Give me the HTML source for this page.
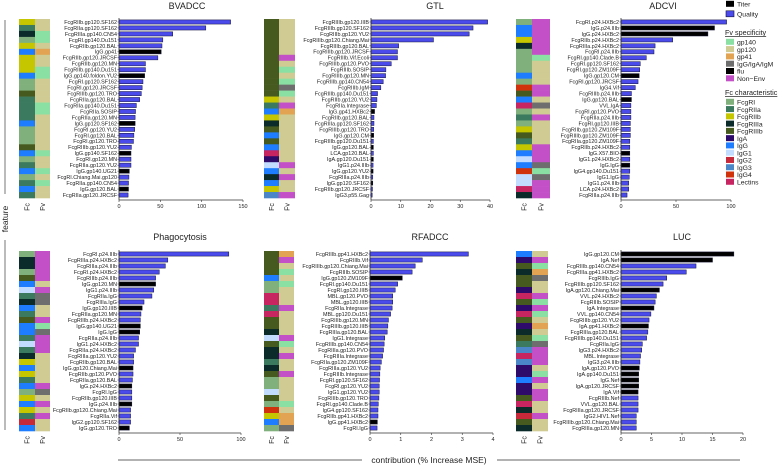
<!DOCTYPE html>
<html><head><meta charset="utf-8">
<style>
html,body{margin:0;padding:0;background:#fff;}
svg{display:block;font-family:"Liberation Sans",sans-serif;}
</style></head>
<body>
<svg id="chart" width="783" height="466" viewBox="0 0 783 466"></svg>
<script>
const bvadccNames=["FcgRIIb.gp120.SF162","FcgRIIa.gp120.SF162","FcgRIIIa.gp140.CN54","FcgRI.gp140.Du151","FcgRIIb.gp120.BAL","IgG.gp41","FcgRIIb.gp120.JRCSF","FcgRIIb.gp120.MN","FcgRIIb.gp140.Du151","IgG.gp140.foldon.YU2","FcgRI.gp120.SF162","FcgRI.gp120.JRCSF","FcgRIIIb.gp120.TRO","FcgRIIa.gp120.BAL","FcgRIIa.gp140.Du151","FcgRIIa.SOSIP","FcgRIIa.gp120.MN","IgG.gp120.SF162","FcgRI.gp120.YU2","FcgRI.gp120.BAL","FcgRI.gp120.TRO","FcgRIIIb.gp120.YU2","IgG.gp140.SF162","FcgRI.gp120.MN","FcgRIIa.gp120.YU2","IgG.gp140.UG21","FcgRI.Chiang.Mai.gp120","FcgRIIa.gp140.CN54","IgG.gp120.BAL","FcgRIIa.gp120.JRCSF"];
const bvadccValues=[135,105,65,53,52,51,47,32,32,31,29,28,27,25,21,20,19.5,19.5,19,18,17.5,15,14.5,14.5,14.5,12.5,12,11.5,11.5,11];
const gtlNames=["FcgRIIIb.gp120.IIIB","FcgRIIIb.gp120.SF162","FcgRIIIb.gp120.YU2","FcgRIIIb.gp120.Chiang.Mai","FcgRIIIb.gp120.BAL","FcgRIIIb.gp120.JRCSF","FcgRIIIb.Vif.Ecoli","FcgRIIIb.gp120.PVO","FcgRIIIb.SOSIP","FcgRIIIb.gp120.MN","FcgRIIIb.gp140.CN54","FcgRIIIb.IgM","FcgRIIIb.gp140.Du151","FcgRIIb.gp120.YU2","FcgRIIa.Integrase","IgG.gp41.HXBc2","FcgRIIb.gp120.BAL","FcgRIIIa.gp120.SF162","FcgRIIIb.gp120.TRO","IgG.gp120.CM","FcgRIIIb.gp120.Du151","IgG.gp120.BAL","LCA.gp120.BAL","IgA.gp120.Du151","IgG1.p24.IIIb","IgG.gp120.YU2","FcgRIIIa.p24.IIIb","IgG.gp120.SF162","FcgRIIb.gp120.JRCSF","IgG3.p55.Gag"];
const gtlValues=[39.2,34.3,33,21,9.3,8.9,8.9,6.8,5,4.9,4.1,3.3,2.2,2,1.8,1.2,1,1,0.9,0.9,0.8,0.8,0.8,0.8,0.7,0.7,0.6,0.6,0.5,0.4];
const adcviNames=["FcgRI.p24.HXBc2","IgG.p24.IIIb","IgG.p24.HXBc2","FcgRIIb.p24.HXBc2","FcgRIIIa.p24.HXBc2","FcgRI.p24.IIIb","FcgRI.gp140.Clade.B","FcgRI.gp120.SF162","FcgRI.gp120.ZM109F","IgG.gp120.CM","FcgRI.gp120.JRCSF","IgG4.Vif","FcgRIIIb.p24.IIIb","IgG.gp120.BAL","VVL.IgA","FcgRI.gp120.PVO","FcgRIIa.p24.IIIb","FcgRI.gp120.IIIB","FcgRIIb.gp120.ZM109F","FcgRIIIb.gp120.ZM109F","FcgRIIa.gp120.ZM109F","FcgRIIb.p24.HXBc2","IgG.X57.BIO","IgG1.p24.HXBc2","IgG.IgG","IgG4.gp140.Du151","IgG1.IgG","IgG1.p24.IIIb","LCA.p24.HXBc2","FcgRIIIa.p24.IIIb"];
const adcviValues=[96,85,79,47,31,30,23,17.5,17,16.5,15.5,13,9.5,9.5,9,9,9,8.5,8.5,8.5,8,8,8,8,8,8,7.5,7,7,5.5];
const phagoNames=["FcgRI.p24.IIIb","FcgRIIIa.p24.HXBc2","FcgRIIIa.p24.IIIb","FcgRI.p24.HXBc2","FcgRIIIb.p24.IIIb","IgG.gp120.MN","IgG1.p24.IIIb","FcgRIIa.IgG","FcgRIIIa.IgG","IgG.gp120.IIIB","FcgRIIa.gp120.MN","FcgRIIIb.p24.HXBc2","IgG.gp140.UG21","IgG.IgG","FcgRIIa.p24.IIIb","IgG1.p24.HXBc2","FcgRIIa.p24.HXBc2","FcgRIIIa.gp120.YU2","FcgRIIb.gp120.BAL","IgG.gp120.Chiang.Mai","FcgRIIb.gp120.PVO","FcgRIIa.gp120.BAL","IgG.p24.HXBc2","FcgRI.IgG","FcgRIIb.gp120.IIIB","IgG.p24.IIIb","FcgRIIb.gp120.Chiang.Mai","FcgRIIa.Vif","IgG2.gp120.SF162","IgG.gp120.TRO"];
const phagoValues=[90,40,38,33,30,30,28.5,27,20.5,19,18,17.5,17.5,17,16,16,13.5,12,12,11.5,11.5,11,10.5,10.5,10.5,10.5,9.5,9.5,9.5,8.5];
const rfadccNames=["FcgRIIIb.gp41.HXBc2","FcgRIIIb.Vif","FcgRIIIb.gp120.Chiang.Mai","FcgRIIIb.SOSIP","IgG.gp120.ZM109F","FcgRI.gp140.Du151","FcgRI.gp120.IIIB","MBL.gp120.PVO","MBL.gp120.IIIB","FcgRIIa.Integrase","MBL.gp120.Du151","FcgRIIIb.gp120.MN","FcgRIIIb.gp120.IIIB","FcgRIIIa.gp120.BAL","IgG1.Integrase","FcgRIIIb.gp140.CN54","FcgRIIIa.gp120.PVO","FcgRIIIa.Integrase","FcgRIIa.gp120.ZM109F","FcgRIIIa.gp120.YU2","FcgRIIIb.Integrase","FcgRI.gp120.SF162","FcgRI.gp120.YU2","IgG1.gp120.YU2","FcgRIIIb.gp120.TRO","FcgRI.gp140.Clade.B","IgG4.gp120.SF162","FcgRIIb.gp41.HXBc2","IgG.gp41.HXBc2","FcgRI.IgG"];
const rfadccValues=[3.2,1.7,1.47,1.37,1.05,0.9,0.82,0.74,0.74,0.72,0.67,0.6,0.58,0.56,0.48,0.46,0.44,0.41,0.37,0.33,0.32,0.31,0.3,0.3,0.29,0.27,0.26,0.26,0.24,0.23];
const lucNames=["IgG.gp120.CM","IgA.Nef","FcgRIIIb.gp140.CN54","FcgRIIIa.gp41.HXBc2","FcgRIIIb.IgG","FcgRIIIb.gp120.SF162","IgA.gp120.Chiang.Mai","VVL.p24.HXBc2","FcgRIIIb.SOSIP","IgA.Integrase","VVL.gp140.CN54","FcgRIIIb.gp120.YU2","IgA.gp41.HXBc2","FcgRIIIa.gp120.BAL","FcgRIIIb.gp140.Du151","FcgRIIa.IgG","IgG3.p24.HXBc2","MBL.Integrase","IgG3.p24.IIIb","IgA.gp120.PVO","IgA.gp140.Du151","IgG.Nef","IgA.gp120.JRCSF","IgA.Vif","FcgRIIIb.Nef","VVL.gp120.BAL","FcgRIIIa.gp120.JRCSF","IgG2.HIV1.Nef","FcgRIIIb.gp120.Chiang.Mai","FcgRIIIa.gp120.MN"];
const lucValues=[18.5,15,12.3,10.7,7.5,6.9,6.3,5.8,5.6,5.4,4.9,4.6,4.5,4.4,4.2,3.5,3.4,3.2,3.1,3,2.9,2.9,2.9,2.8,2.8,2.8,2.8,2.5,2.5,2.5];
const bvadccTicks=[0,50,100,150];
const gtlTicks=[0,10,20,30,40];
const adcviTicks=[0,50,100];
const phagoTicks=[0,50,100];
const rfadccTicks=[0,1,2,3,4];
const lucTicks=[0,5,10,15,20];

const NS="http://www.w3.org/2000/svg";
const svg=document.getElementById('chart');
function mk(tag,attrs,parent){const e=document.createElementNS(NS,tag);for(const k in attrs)e.setAttribute(k,attrs[k]);(parent||svg).appendChild(e);return e;}
const fcColors={"FcgRI":"#80b07c","FcgRIIa":"#3b7a5f","FcgRIIb":"#c6c600","FcgRIIIa":"#0b2a2a","FcgRIIIb":"#465a20","IgA":"#2e0b6b","IgG":"#1e7cff","IgG1":"#c2dcff","IgG2":"#c62a3a","IgG3":"#4a86c8","IgG4":"#d0320c","Lectins":"#c72462"};
const fvColors={"gp140":"#8ae0a2","gp120":"#cfcb93","gp41":"#e2a452","IgG/IgA/IgM":"#6e6e6e","flu":"#000000","Non-Env":"#c450c8"};
function fcOf(n){const p=n.split('.')[0];if(p==="MBL"||p==="LCA"||p==="VVL")return "Lectins";return fcColors[p]?p:"IgG";}
function fvOf(n){const r=n.split('.').slice(1).join('.');
 if(/gp140|SOSIP/.test(r))return "gp140";if(/gp41/.test(r))return "gp41";if(/gp120/.test(r))return "gp120";
 if(/^(IgG|IgA|IgM)/.test(r))return "IgG/IgA/IgM";return "Non-Env";}
function isTiter(n){return /^(IgG|IgA)\./.test(n);}

const panels=[
 {key:"bvadcc",title:"BVADCC",names:bvadccNames,vals:bvadccValues,ticks:bvadccTicks,max:150,x0:119,x1:243,fc:19,fv:35,fvw:15,top:19,bot:198,tx:187,ty:9},
 {key:"gtl",title:"GTL",names:gtlNames,vals:gtlValues,ticks:gtlTicks,max:40,x0:371,x1:490,fc:264,fv:279,fvw:16,top:19,bot:198,tx:435,ty:9},
 {key:"adcvi",title:"ADCVI",names:adcviNames,vals:adcviValues,ticks:adcviTicks,max:100,x0:621,x1:731,fc:516,fv:532,fvw:18,top:19,bot:198,tx:663,ty:9},
 {key:"phagocytosis",title:"Phagocytosis",names:phagoNames,vals:phagoValues,ticks:phagoTicks,max:100,x0:119,x1:241,fc:19,fv:35,fvw:15,top:251,bot:431,tx:180,ty:240},
 {key:"rfadcc",title:"RFADCC",names:rfadccNames,vals:rfadccValues,ticks:rfadccTicks,max:4,x0:370,x1:493,fc:264,fv:279,fvw:15,top:251,bot:431,tx:430,ty:240},
 {key:"luc",title:"LUC",names:lucNames,vals:lucValues,ticks:lucTicks,max:20,x0:621,x1:743,fc:516,fv:532,fvw:16,top:251,bot:431,tx:682,ty:240}
];
panels.forEach(p=>{
 const g=mk('g',{});
 
 
 const xs=v=>p.x0+(v/p.max)*(p.x1-p.x0);
 const n=p.names.length, band=(p.bot-p.top)/n;
 const ys=i=>p.top+band*i;
 const t=mk('text',{x:p.tx,y:p.ty,'font-size':9,'text-anchor':'middle',fill:'#222'},g);
 t.textContent=p.title;
 
 
 p.names.forEach((nm,i)=>{
  const y=ys(i);
  const c1=mk('rect',{x:p.fc,y:y,width:p.fv-p.fc,height:band+0.3,fill:fcColors[fcOf(nm)]},g);
  
  
  const c2=mk('rect',{x:p.fv,y:y,width:p.fvw,height:band+0.3,fill:fvColors[fvOf(nm)]},g);
  
  
  const bh=band*0.7;
  const b=mk('rect',{x:p.x0,y:y+(band-bh)/2,width:Math.max(0.5,xs(p.vals[i])-p.x0),height:bh,fill:isTiter(nm)?'#000':'#4b4bec',stroke:'#15153a','stroke-width':0.5},g);
  
  
  mk('line',{x1:p.x0-1.5,x2:p.x0,y1:y+band/2,y2:y+band/2,stroke:'#333','stroke-width':0.5},g);
  const l=mk('text',{x:p.x0-2,y:y+band/2+1.9,'font-size':5.4,'text-anchor':'end',fill:'#222'},g);
  l.textContent=nm;
  
  
 });
 mk('line',{x1:p.x0,x2:p.x0,y1:p.top-1,y2:p.bot+2,stroke:'#333','stroke-width':0.8},g);
 const ay=p.bot+2;
 const ax=mk('line',{x1:p.x0,x2:p.x1,y1:ay,y2:ay,stroke:'#333','stroke-width':0.8},g);
 
 
 p.ticks.forEach(tv=>{
  const x=xs(tv);
  mk('line',{x1:x,x2:x,y1:ay,y2:ay+2,stroke:'#333','stroke-width':0.6},g);
  const tl=mk('text',{x:x,y:ay+8,'font-size':5.5,'text-anchor':'middle',fill:'#222'},g);
  tl.textContent=tv;
  
  
 });
 [['Fc',p.fc+(p.fv-p.fc)/2],['Fv',p.fv+p.fvw/2]].forEach(([s,cx])=>{
  const yy=p.bot+9;
  const tt=mk('text',{x:cx+2.5,y:yy,'font-size':7,'text-anchor':'middle',fill:'#222',transform:`rotate(-90 ${cx+2.5} ${yy})`},g);
  tt.textContent=s;
  
  
 });
});
mk('line',{x1:5,x2:5,y1:20,y2:194,stroke:'#555','stroke-width':0.8});
mk('line',{x1:5,x2:5,y1:240,y2:430,stroke:'#555','stroke-width':0.8});
const ft=mk('text',{x:8,y:219,'font-size':8.5,'text-anchor':'middle',fill:'#222',transform:'rotate(-90 8 219)'});
ft.textContent='feature';


mk('line',{x1:118,x2:362,y1:460,y2:460,stroke:'#333','stroke-width':0.8});
mk('line',{x1:497,x2:740,y1:460,y2:460,stroke:'#333','stroke-width':0.8});
const xt=mk('text',{x:429,y:463,'font-size':8.5,'text-anchor':'middle',fill:'#222'});
xt.textContent='contribution (% Increase MSE)';


const lg=mk('g',{});


function entry(y,color,label,stroke){
 const r=mk('rect',{x:726,y:y-3.2,width:8,height:6,fill:color,stroke:stroke||'none','stroke-width':0.6},lg);
 
 
 const t=mk('text',{x:737,y:y+2.5,'font-size':6.8,fill:'#222'},lg);
 t.textContent=label;
 
 
}
entry(4,'#000','Titer');
entry(14,'#4b4bec','Quality','#15153a');
function head(y,label){const t=mk('text',{x:725,y:y,'font-size':7.2,fill:'#222','text-decoration':'underline'},lg);t.textContent=label;
 
 }
head(35,'Fv specificity');
Object.keys(fvColors).forEach((k,i)=>entry(42+i*7.3,fvColors[k],k==='Non-Env'?'Non\u2212Env':k));
head(95,'Fc characteristic');
Object.keys(fcColors).forEach((k,i)=>entry(102+i*7.27,fcColors[k],k));
</script>
</body></html>
